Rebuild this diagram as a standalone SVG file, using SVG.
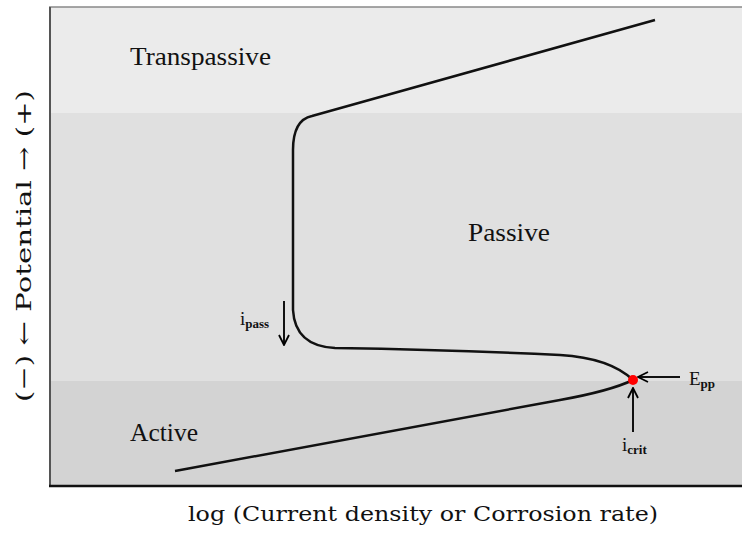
<svg xmlns="http://www.w3.org/2000/svg" width="742" height="533" viewBox="0 0 742 533">
<defs>
<marker id="ah" viewBox="0 0 12 12" refX="11" refY="6" markerWidth="12" markerHeight="12" markerUnits="userSpaceOnUse" orient="auto">
<path d="M1,1 L11,6 L1,11" fill="none" stroke="#000" stroke-width="1.8"/>
</marker>
<style>
.lbl{font-family:"Liberation Serif","DejaVu Serif",serif;fill:#111}
.wide{font-family:"DejaVu Serif","Liberation Serif",serif;fill:#111}
.curve{fill:none;stroke:#111;stroke-width:2.5}
.arr{stroke:#111;stroke-width:2;marker-end:url(#ah)}
</style>
</defs>
<rect width="742" height="533" fill="#fff"/>
<g id="bands">
<rect x="49" y="7" width="693" height="106" fill="#ebebeb"/>
<rect x="49" y="113" width="693" height="268" fill="#e0e0e0"/>
<rect x="49" y="381" width="693" height="104" fill="#d3d3d3"/>
<line x1="49" y1="7" x2="742" y2="7" stroke="#888" stroke-width="1.5"/>
<line x1="50" y1="7" x2="50" y2="486" stroke="#555" stroke-width="2"/>
<line x1="49" y1="486" x2="742" y2="486" stroke="#111" stroke-width="2.5"/>
</g>
<g id="connectors">
<path class="curve" d="M175,471 L560,400 Q610,391 633,380 Q610,358 560,355 Q460,350 335,348 Q295,346 293,310 L293,150 Q293,120 312,116 L655,20"/>
<line class="arr" x1="284" y1="301" x2="284" y2="345"/>
<line class="arr" x1="680" y1="377" x2="638" y2="377"/>
<line class="arr" x1="633" y1="432" x2="633" y2="388"/>
</g>
<g id="epp-point"><circle cx="633" cy="380" r="5" fill="#ff0000"/></g>
<g id="region-transpassive"><text class="lbl" x="130" y="65" font-size="26" textLength="141" lengthAdjust="spacingAndGlyphs">Transpassive</text></g>
<g id="region-passive"><text class="lbl" x="468" y="241" font-size="26" textLength="82" lengthAdjust="spacingAndGlyphs">Passive</text></g>
<g id="region-active"><text class="lbl" x="130" y="441" font-size="26" textLength="68" lengthAdjust="spacingAndGlyphs">Active</text></g>
<g id="label-ipass"><text class="lbl" x="240" y="325" font-size="19">i<tspan font-size="13" dy="3" font-weight="bold">pass</tspan></text></g>
<g id="label-epp"><text class="lbl" x="689" y="385" font-size="19">E<tspan font-size="13" dy="3" font-weight="bold">pp</tspan></text></g>
<g id="label-icrit"><text class="lbl" x="622" y="451" font-size="19">i<tspan font-size="13" dy="3" font-weight="bold">crit</tspan></text></g>
<g id="axis-x"><text class="wide" x="188" y="521" font-size="20" textLength="470" lengthAdjust="spacingAndGlyphs">log (Current density or Corrosion rate)</text></g>
<g id="axis-y"><text class="wide" transform="translate(31,246) rotate(-90)" text-anchor="middle" font-size="21" textLength="312" lengthAdjust="spacingAndGlyphs">(−) ← Potential → (+)</text></g>
</svg>
